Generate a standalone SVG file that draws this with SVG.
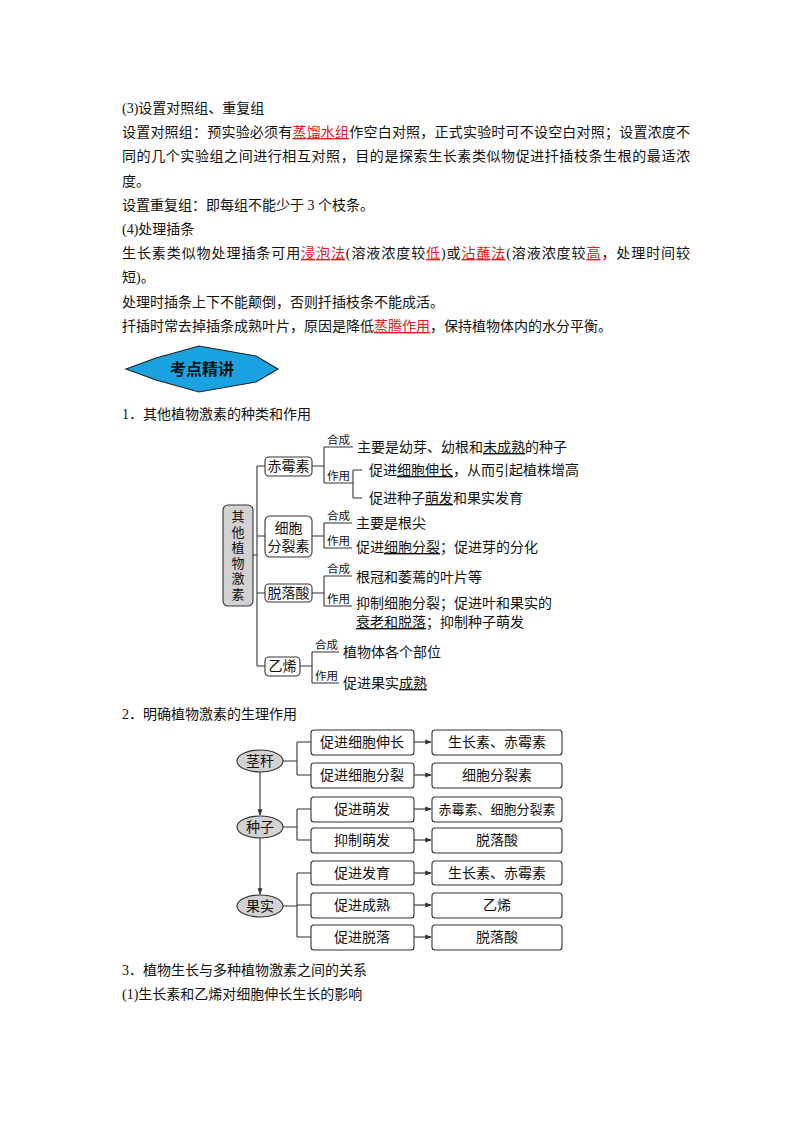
<svg xmlns="http://www.w3.org/2000/svg" width="800" height="1132" viewBox="0 0 800 1132">
<style>
text{font-family:"Liberation Serif","Noto Sans CJK SC",serif;font-size:14px;fill:#111}
.r{fill:#e02020;text-decoration:underline}
.s{font-size:11.5px}
.c{text-anchor:middle}
.v{font-size:13px}
.u{text-decoration:underline}
.ln{stroke:#333;stroke-width:1.1;fill:none}
.bx{fill:#fff;stroke:#333;stroke-width:1.1}
.gy{fill:#d2d2d2;stroke:#333;stroke-width:1.1}
</style>
<defs><marker id="a" viewBox="0 0 8 8" refX="7" refY="4" markerWidth="6" markerHeight="6" orient="auto"><path d="M0,1 L8,4 L0,7z" fill="#333"/></marker></defs>
<rect width="800" height="1132" fill="#fff"/>
<g id="body">
<text x="122" y="113">(3)设置对照组、重复组</text>
<text x="122" y="137" textLength="568">设置对照组：预实验必须有<tspan class="r">蒸馏水组</tspan>作空白对照，正式实验时可不设空白对照；设置浓度不</text>
<text x="122" y="161" textLength="568">同的几个实验组之间进行相互对照，目的是探索生长素类似物促进扦插枝条生根的最适浓</text>
<text x="122" y="186">度。</text>
<text x="122" y="210">设置重复组：即每组不能少于 3 个枝条。</text>
<text x="122" y="234">(4)处理插条</text>
<text x="122" y="258" textLength="568">生长素类似物处理插条可用<tspan class="r">浸泡法</tspan>(溶液浓度较<tspan class="r">低</tspan>)或<tspan class="r">沾蘸法</tspan>(溶液浓度较<tspan class="r">高</tspan>，处理时间较</text>
<text x="122" y="282">短)。</text>
<text x="122" y="307">处理时插条上下不能颠倒，否则扦插枝条不能成活。</text>
<text x="122" y="331">扦插时常去掉插条成熟叶片，原因是降低<tspan class="r">蒸腾作用</tspan>，保持植物体内的水分平衡。</text>
</g>
<g id="banner">
<polygon points="126,369 156,358 199,346 256,356 278,369 256,382 199,392 156,380" fill="#1aa3e0" stroke="#222" stroke-width="1.2"/>
<text x="202" y="375" class="c" style="font-size:16px;font-weight:bold">考点精讲</text>
</g>
<text x="122" y="419">1．其他植物激素的种类和作用</text>
<g id="connectors1" class="ln">
<path d="M253,555 H257 M257,466 V666 M257,466 H265 M257,536 H265 M257,593 H265 M257,666 H265"/>
<path d="M312,466 H324 M324,447 V483 M324,447 H353 M324,483 H353 M353,470 V498 M353,470 H362 M353,498 H362"/>
<path d="M312,536 H324 M324,523 V548 M324,523 H352 M324,548 H352"/>
<path d="M312,593 H324 M324,576 V606 M324,576 H352 M324,606 H352"/>
<path d="M300,666 H312 M312,652 V683 M312,652 H339 M312,683 H339"/>
</g>
<g id="n-main"><rect x="223" y="505" width="30" height="101" rx="5" class="gy"/>
<text x="238" y="521" class="c v">其</text><text x="238" y="536.5" class="c v">他</text><text x="238" y="552" class="c v">植</text><text x="238" y="567.5" class="c v">物</text><text x="238" y="583" class="c v">激</text><text x="238" y="598.5" class="c v">素</text></g>
<g id="n-chi"><rect x="265" y="457" width="47" height="19" rx="4" class="bx"/><text x="288.5" y="471" class="c">赤霉素</text>
<text x="327" y="444" class="s">合成</text><text x="357" y="452">主要是幼芽、幼根和<tspan class="u">未成熟</tspan>的种子</text>
<text x="327" y="480" class="s">作用</text><text x="369" y="475">促进<tspan class="u">细胞伸长</tspan>，从而引起植株增高</text>
<text x="369" y="503">促进种子<tspan class="u">萌发</tspan>和果实发育</text></g>
<g id="n-xi"><rect x="265" y="516" width="47" height="41" rx="5" class="bx"/><text x="288.5" y="533" class="c">细胞</text><text x="288.5" y="551" class="c">分裂素</text>
<text x="327" y="520" class="s">合成</text><text x="356" y="528">主要是根尖</text>
<text x="327" y="545" class="s">作用</text><text x="356" y="552">促进<tspan class="u">细胞分裂</tspan>；促进芽的分化</text></g>
<g id="n-tuo"><rect x="265" y="584" width="47" height="18" rx="4" class="bx"/><text x="288.5" y="598" class="c">脱落酸</text>
<text x="327" y="573" class="s">合成</text><text x="356" y="582">根冠和萎蔫的叶片等</text>
<text x="327" y="603" class="s">作用</text><text x="356" y="608">抑制细胞分裂；促进叶和果实的</text><text x="356" y="627"><tspan class="u">衰老和脱落</tspan>；抑制种子萌发</text></g>
<g id="n-yi"><rect x="265" y="657" width="35" height="19" rx="4" class="bx"/><text x="282.5" y="671" class="c">乙烯</text>
<text x="315" y="649" class="s">合成</text><text x="343" y="657">植物体各个部位</text>
<text x="315" y="680" class="s">作用</text><text x="343" y="688">促进果实<tspan class="u">成熟</tspan></text></g>
<text x="122" y="719">2．明确植物激素的生理作用</text>
<g id="connectors2" class="ln">
<path d="M260,772 V815" marker-end="url(#a)"/><path d="M260,838 V894" marker-end="url(#a)"/>
<path d="M283,761 H297 M297,742 V775 M297,742 H311 M297,775 H311"/>
<path d="M283,827 H297 M297,809 V840 M297,809 H311 M297,840 H311"/>
<path d="M283,906 H297 M297,873 V937 M297,873 H311 M297,905 H311 M297,937 H311"/>
<path d="M414,742 H431" marker-end="url(#a)"/><path d="M414,775 H431" marker-end="url(#a)"/><path d="M414,809 H431" marker-end="url(#a)"/><path d="M414,840 H431" marker-end="url(#a)"/><path d="M414,873 H431" marker-end="url(#a)"/><path d="M414,905 H431" marker-end="url(#a)"/><path d="M414,937 H431" marker-end="url(#a)"/>
</g>
<g id="e1"><ellipse cx="260" cy="761" rx="23" ry="11" class="gy"/><text x="260" y="766" class="c">茎秆</text></g>
<g id="e2"><ellipse cx="260" cy="827" rx="23" ry="11" class="gy"/><text x="260" y="832" class="c">种子</text></g>
<g id="e3"><ellipse cx="260" cy="906" rx="23" ry="11" class="gy"/><text x="260" y="911" class="c">果实</text></g>
<g id="m1"><rect x="311" y="730" width="103" height="25" rx="3" class="bx"/><text x="362" y="747" class="c">促进细胞伸长</text></g>
<g id="m2"><rect x="311" y="763" width="103" height="25" rx="3" class="bx"/><text x="362" y="780" class="c">促进细胞分裂</text></g>
<g id="m3"><rect x="311" y="797" width="103" height="25" rx="3" class="bx"/><text x="362" y="814" class="c">促进萌发</text></g>
<g id="m4"><rect x="311" y="828" width="103" height="25" rx="3" class="bx"/><text x="362" y="845" class="c">抑制萌发</text></g>
<g id="m5"><rect x="311" y="861" width="103" height="24" rx="3" class="bx"/><text x="362" y="878" class="c">促进发育</text></g>
<g id="m6"><rect x="311" y="893" width="103" height="25" rx="3" class="bx"/><text x="362" y="910" class="c">促进成熟</text></g>
<g id="m7"><rect x="311" y="925" width="103" height="25" rx="3" class="bx"/><text x="362" y="942" class="c">促进脱落</text></g>
<g id="r1"><rect x="432" y="730" width="130" height="25" rx="3" class="bx"/><text x="497" y="747" class="c">生长素、赤霉素</text></g>
<g id="r2"><rect x="432" y="763" width="130" height="25" rx="3" class="bx"/><text x="497" y="780" class="c">细胞分裂素</text></g>
<g id="r3"><rect x="432" y="797" width="130" height="25" rx="3" class="bx"/><text x="497" y="814" class="c v">赤霉素、细胞分裂素</text></g>
<g id="r4"><rect x="432" y="828" width="130" height="25" rx="3" class="bx"/><text x="497" y="845" class="c">脱落酸</text></g>
<g id="r5"><rect x="432" y="861" width="130" height="24" rx="3" class="bx"/><text x="497" y="878" class="c">生长素、赤霉素</text></g>
<g id="r6"><rect x="432" y="893" width="130" height="25" rx="3" class="bx"/><text x="497" y="910" class="c">乙烯</text></g>
<g id="r7"><rect x="432" y="925" width="130" height="25" rx="3" class="bx"/><text x="497" y="942" class="c">脱落酸</text></g>
<text x="122" y="975">3．植物生长与多种植物激素之间的关系</text>
<text x="122" y="999">(1)生长素和乙烯对细胞伸长生长的影响</text>
</svg>
